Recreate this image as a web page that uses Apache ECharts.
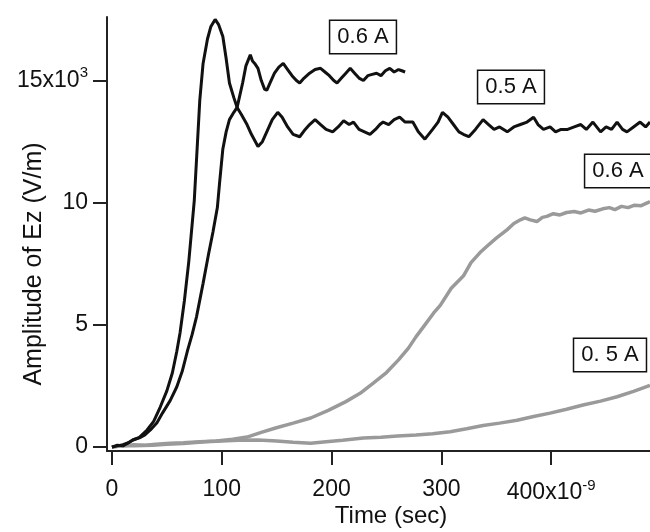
<!DOCTYPE html>
<html>
<head>
<meta charset="utf-8">
<script src="https://cdn.jsdelivr.net/npm/echarts@6/dist/echarts.min.js"></script>
<style>
  body { margin: 0; background: #fff; }
  #main { width: 650px; height: 532px; }
</style>
</head>
<body>
<div id="main"></div>
<script>
// tick labels
var xTicks = [0, 100, 200, 300, 400];
var yTicks = [0, 5, 10, 15];

// black, fast one (peaks first, then settles on the lower level)
var timeA = [0, 5, 10, 14, 19, 25, 32, 38, 44, 50, 55, 59, 62, 66, 70, 75, 80, 83, 87, 90, 94, 97, 101, 104, 107, 111, 114, 118, 123, 127, 133, 137, 141, 146, 151, 155, 160, 165, 171, 176, 180, 185, 190, 195, 201, 206, 211, 216, 220, 225, 230, 235, 240, 244, 247, 252, 257, 262, 267, 274, 279, 285, 292, 297, 301, 306, 311, 316, 320, 325, 331, 338, 343, 348, 353, 360, 366, 372, 378, 384, 388, 393, 399, 404, 409, 415, 421, 427, 432, 438, 445, 450, 455, 460, 465, 469, 475, 481, 486, 490];
var ampA = [0, 0.08, 0.05, 0.15, 0.29, 0.4, 0.7, 1.05, 1.64, 2.3, 3.03, 3.9, 4.67, 6.0, 7.6, 10.1, 14.2, 15.7, 16.7, 17.2, 17.5, 17.3, 16.8, 15.9, 14.9, 14.3, 13.9, 13.6, 13.2, 12.8, 12.3, 12.5, 12.9, 13.4, 13.7, 13.5, 13.1, 12.8, 12.7, 13.0, 13.2, 13.4, 13.2, 13.0, 12.9, 13.1, 13.35, 13.2, 13.3, 13.0, 12.9, 12.8, 13.0, 13.2, 13.3, 13.2, 13.4, 13.5, 13.3, 13.3, 12.9, 12.6, 13.0, 13.3, 13.7, 13.5, 13.2, 12.9, 12.8, 12.7, 13.0, 13.4, 13.2, 13.0, 13.1, 12.9, 13.1, 13.2, 13.3, 13.5, 13.2, 13.0, 13.1, 12.9, 13.0, 13.0, 13.1, 13.2, 13.0, 13.3, 12.9, 13.1, 13.0, 13.3, 13.0, 12.9, 13.1, 13.3, 13.1, 13.3];

// black, slower one (upper level, stops near 267)
var timeB = [0, 5, 10, 15, 19, 25, 30, 35, 41, 46, 53, 59, 64, 69, 73, 77, 83, 88, 92, 96, 98, 101, 104, 107, 111, 114, 116, 119, 122, 126, 128, 130, 133, 136, 139, 141, 144, 148, 152, 156, 160, 164, 168, 171, 175, 180, 185, 190, 194, 198, 202, 205, 209, 213, 217, 221, 225, 229, 233, 237, 241, 245, 249, 253, 257, 261, 264, 267];
var ampB = [0, 0.05, 0.1, 0.18, 0.29, 0.38, 0.5, 0.7, 1.0, 1.39, 1.9, 2.46, 3.1, 3.98, 4.6, 5.33, 6.7, 7.9, 8.8, 9.8, 10.8, 12.2, 12.9, 13.4, 13.7, 13.9, 14.3, 14.9, 15.6, 16.05, 15.8, 15.7, 15.5, 15.0, 14.65, 14.6, 14.9, 15.3, 15.55, 15.7, 15.45, 15.2, 15.0, 14.9, 15.1, 15.3, 15.45, 15.5, 15.35, 15.2, 15.0, 14.9, 15.1, 15.3, 15.5, 15.3, 15.1, 15.0, 15.2, 15.25, 15.3, 15.2, 15.4, 15.5, 15.35, 15.45, 15.4, 15.35];

// gray 0.6 A
var timeC = [0, 10, 20, 30, 40, 53, 65, 80, 95, 110, 123, 136, 149, 165, 181, 197, 213, 226, 238, 250, 261, 270, 277, 285, 293, 299, 309, 320, 327, 335, 341, 350, 360, 366, 372, 376, 381, 387, 392, 396, 402, 408, 414, 421, 427, 434, 440, 447, 453, 458, 464, 470, 476, 482, 488, 490];
var ampC = [0, 0.05, 0.1, 0.08, 0.12, 0.16, 0.18, 0.22, 0.25, 0.32, 0.41, 0.6, 0.78, 0.98, 1.19, 1.5, 1.86, 2.2, 2.62, 3.05, 3.57, 4.05, 4.52, 5.0, 5.49, 5.8, 6.5, 7.0, 7.55, 7.95, 8.2, 8.55, 8.9, 9.15, 9.3, 9.38, 9.3, 9.23, 9.4, 9.44, 9.55, 9.5, 9.6, 9.64, 9.58, 9.7, 9.65, 9.75, 9.8, 9.72, 9.85, 9.8, 9.9, 9.88, 10.0, 10.05];

// gray 0.5 A
var timeD = [0, 10, 20, 37, 50, 65, 85, 100, 115, 133, 150, 165, 181, 195, 210, 229, 245, 260, 277, 292, 308, 323, 338, 353, 369, 384, 399, 414, 429, 445, 460, 475, 490];
var ampD = [0, 0.06, 0.05, 0.08, 0.12, 0.15, 0.22, 0.25, 0.28, 0.29, 0.25, 0.2, 0.16, 0.22, 0.28, 0.37, 0.4, 0.45, 0.49, 0.55, 0.63, 0.75, 0.88, 0.98, 1.1, 1.25, 1.39, 1.55, 1.72, 1.88, 2.06, 2.28, 2.52];

function pairs (t, v) {
  return t.map(function (x, i) { return [x, v[i]]; });
}

var font = "'Liberation Sans', Arial, sans-serif";
var axisColor = "#222";

// boxed labels over the curves
function boxLabel (text, x, y) {
  return {
    type: "text", x: x, y: y, z: 10,
    style: { text: text, font: "22px " + font, fill: "#111", align: "center", verticalAlign: "middle",
      padding: [5, 7, 5, 7], borderColor: "#111", borderWidth: 1.5, backgroundColor: "#fff" }
  };
}

var chart = echarts.init(document.getElementById("main"));
chart.setOption({
  backgroundColor: "#fff",
  animation: false,
  grid: { left: 107, right: 0, top: 17, bottom: 81 },
  xAxis: {
    type: "value",
    min: -4.5,
    max: 490,
    splitLine: { show: false },
    axisLine: { onZero: false, lineStyle: { color: axisColor, width: 2 } },
    axisTick: { show: true, length: 14, customValues: xTicks, lineStyle: { color: axisColor, width: 2 } },
    axisLabel: {
      customValues: xTicks,
      margin: 27,
      fontSize: 23,
      fontFamily: font,
      color: "#111",
      formatter: function (v) {
        return v === 400 ? "400x10{sup|-9}" : String(v);
      },
      rich: { sup: { fontSize: 15, fontFamily: font, color: "#111", padding: [0, 0, 15, 0] } }
    }
  },
  yAxis: {
    type: "value",
    min: -0.16,
    max: 17.6,
    splitLine: { show: false },
    axisLine: { onZero: false, lineStyle: { color: axisColor, width: 2 } },
    axisTick: { show: true, length: 14, customValues: yTicks, lineStyle: { color: axisColor, width: 2 } },
    axisLabel: {
      customValues: yTicks,
      margin: 19,
      fontSize: 23,
      fontFamily: font,
      color: "#111",
      formatter: function (v) {
        return v === 15 ? "15x10{sup|3}" : String(v);
      },
      rich: { sup: { fontSize: 15, fontFamily: font, color: "#111", padding: [0, 0, 15, 0] } }
    }
  },
  graphic: [
    {
      type: "text", x: 34, y: 264, rotation: Math.PI / 2,
      style: { text: "Amplitude of Ez (V/m)", font: "25px " + font, fill: "#111", align: "center", verticalAlign: "middle" }
    },
    {
      type: "text", x: 391, y: 516,
      style: { text: "Time (sec)", font: "24px " + font, fill: "#111", align: "center", verticalAlign: "middle" }
    },
    boxLabel("0.6 A", 363, 37),
    boxLabel("0.5 A", 511, 87),
    boxLabel("0.6 A", 618, 171),
    boxLabel("0. 5 A", 610, 355)
  ],
  series: [
    { name: "0.5 A gray", type: "line", showSymbol: false, data: pairs(timeD, ampD),
      lineStyle: { color: "#9a9a9a", width: 3.5 } },
    { name: "0.6 A gray", type: "line", showSymbol: false, data: pairs(timeC, ampC),
      lineStyle: { color: "#9a9a9a", width: 3.5 } },
    { name: "black A", type: "line", showSymbol: false, data: pairs(timeA, ampA),
      lineStyle: { color: "#111", width: 3 } },
    { name: "black B", type: "line", showSymbol: false, data: pairs(timeB, ampB),
      lineStyle: { color: "#111", width: 3 } }
  ]
});
</script>
</body>
</html>
